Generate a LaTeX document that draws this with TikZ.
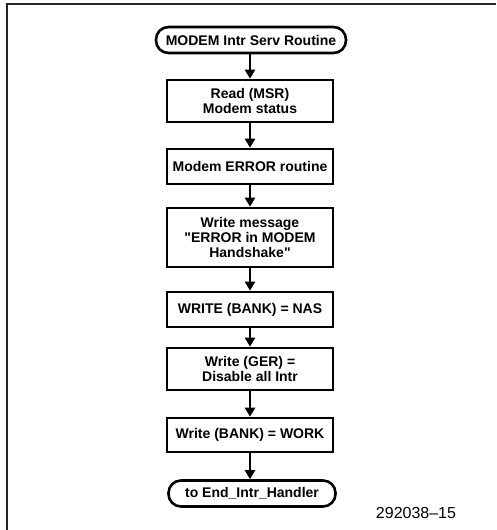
\documentclass[tikz,border=0pt]{standalone}
\usepackage{fontspec}
\newfontfamily\plainfont{Liberation Sans}
\usetikzlibrary{arrows.meta}
\begin{document}
\begin{tikzpicture}[x=1pt,y=-1pt,
  txt/.style={font=\plainfont\bfseries\fontsize{14}{15.2}\selectfont},
  box/.style={draw,line width=2.6pt,minimum width=166pt,align=center,inner sep=2pt,txt},
  term/.style={draw,line width=2.6pt,rounded corners=12.5pt,minimum height=26pt,align=center,txt},
  arr/.style={line width=2.4pt,-{Triangle[width=10pt,length=9pt]}},
  frame/.style={line width=1.8pt,black!85}]
\useasboundingbox (0,0) rectangle (496,530);
\coordinate (fa) at (7,530);
\coordinate (fb) at (7,4);
\coordinate (fc) at (496,4);
\draw[frame] (fa) -- (fb) -- (fc);
\node[term,minimum width=190pt] (s) at (251,40) {MODEM Intr Serv Routine};
\node[box,minimum height=42pt] (b1) at (250,101) {Read (MSR)\\Modem status};
\node[box,minimum height=35pt] (b2) at (250,166.5) {Modem ERROR routine};
\node[box,minimum height=59pt] (b3) at (250,237.5) {Write message\\"ERROR in MODEM\\Handshake"};
\node[box,minimum height=35pt] (b4) at (250,309.5) {WRITE (BANK) = NAS};
\node[box,minimum height=42pt] (b5) at (250,369) {Write (GER) =\\Disable all Intr};
\node[box,minimum height=34pt] (b6) at (250,435) {Write (BANK) = WORK};
\node[term,minimum width=167pt] (e) at (252,493.5) {to End\_Intr\_Handler};
\node[font=\plainfont\fontsize{16}{18}\selectfont] (lab) at (416,513) {292038–15};
\draw[arr] (s.south -| b1.north) -- (b1.north);
\draw[arr] (b1) -- (b2);
\draw[arr] (b2) -- (b3);
\draw[arr] (b3) -- (b4);
\draw[arr] (b4) -- (b5);
\draw[arr] (b5) -- (b6);
\draw[arr] (b6.south) -- (b6.south |- e.north);
\end{tikzpicture}
\end{document}
